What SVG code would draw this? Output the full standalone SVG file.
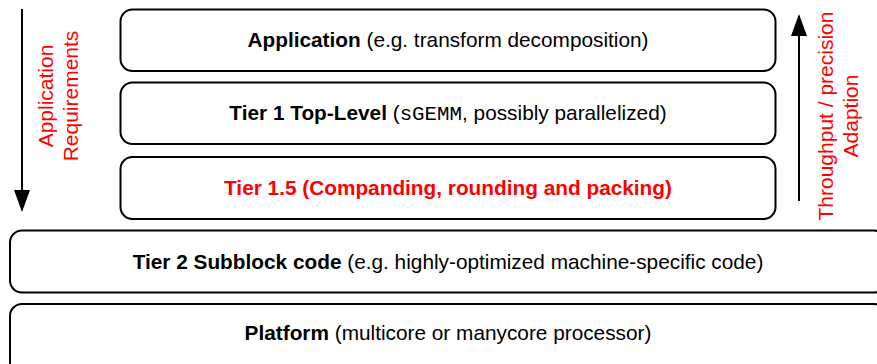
<svg xmlns="http://www.w3.org/2000/svg" width="877" height="364" viewBox="0 0 877 364">
  <style>
    .box { fill: #ffffff; stroke: #000000; stroke-width: 2; }
    .lbl { font-family: "Liberation Sans", Arial, sans-serif; font-size: 20.8px; fill: #000000; text-anchor: middle; }
    .b { font-weight: bold; }
    .mono { font-family: "Liberation Mono", "Courier New", monospace; }
    .red { fill: #ff0000; }
    .side { font-family: "Liberation Sans", Arial, sans-serif; font-size: 21px; fill: #ff0000; text-anchor: middle; }
    .conn { stroke: #000000; stroke-width: 2; fill: none; }
  </style>
  <defs>
    <marker id="head" markerWidth="22" markerHeight="18" refX="20" refY="9" orient="auto" markerUnits="userSpaceOnUse">
      <path d="M0,1 L22,9 L0,17 Z" fill="#000000"/>
    </marker>
  </defs>

  <rect width="877" height="364" fill="#ffffff"/>

  <!-- stack layers, top to bottom -->
  <g id="application">
    <rect class="box" x="120.5" y="9.5" width="655" height="61.5" rx="12"/>
    <text class="lbl" x="448" y="46.5"><tspan class="b">Application</tspan> (e.g. transform decomposition)</text>
  </g>
  <g id="tier1">
    <rect class="box" x="120.5" y="82.5" width="655" height="61.5" rx="12"/>
    <text class="lbl" x="448" y="120"><tspan class="b">Tier 1 Top-Level</tspan> (<tspan class="mono">sGEMM</tspan>, possibly parallelized)</text>
  </g>
  <g id="tier15">
    <rect class="box" x="120.5" y="157" width="655" height="62" rx="12"/>
    <text class="lbl b red" x="448" y="194.5">Tier 1.5 (Companding, rounding and packing)</text>
  </g>
  <g id="tier2">
    <rect class="box" x="10" y="230.5" width="876" height="62" rx="12"/>
    <text class="lbl" x="448" y="268.5"><tspan class="b">Tier 2 Subblock code</tspan> (e.g. highly-optimized machine-specific code)</text>
  </g>
  <g id="platform">
    <rect class="box" x="10" y="304" width="876" height="70" rx="12"/>
    <text class="lbl" x="448" y="340"><tspan class="b">Platform</tspan> (multicore or manycore processor)</text>
  </g>

  <!-- direction arrows -->
  <g id="connectors">
    <line class="conn" x1="22" y1="9" x2="22" y2="210" marker-end="url(#head)"/>
    <line class="conn" x1="799" y1="201" x2="799" y2="16" marker-end="url(#head)"/>
  </g>

  <!-- side captions -->
  <g id="requirements-caption">
    <text class="side" transform="translate(53,96) rotate(-90)">Application</text>
    <text class="side" transform="translate(78,96) rotate(-90)">Requirements</text>
  </g>
  <g id="adaption-caption">
    <text class="side" transform="translate(833,116) rotate(-90)">Throughput / precision</text>
    <text class="side" transform="translate(858,116) rotate(-90)">Adaption</text>
  </g>
</svg>
